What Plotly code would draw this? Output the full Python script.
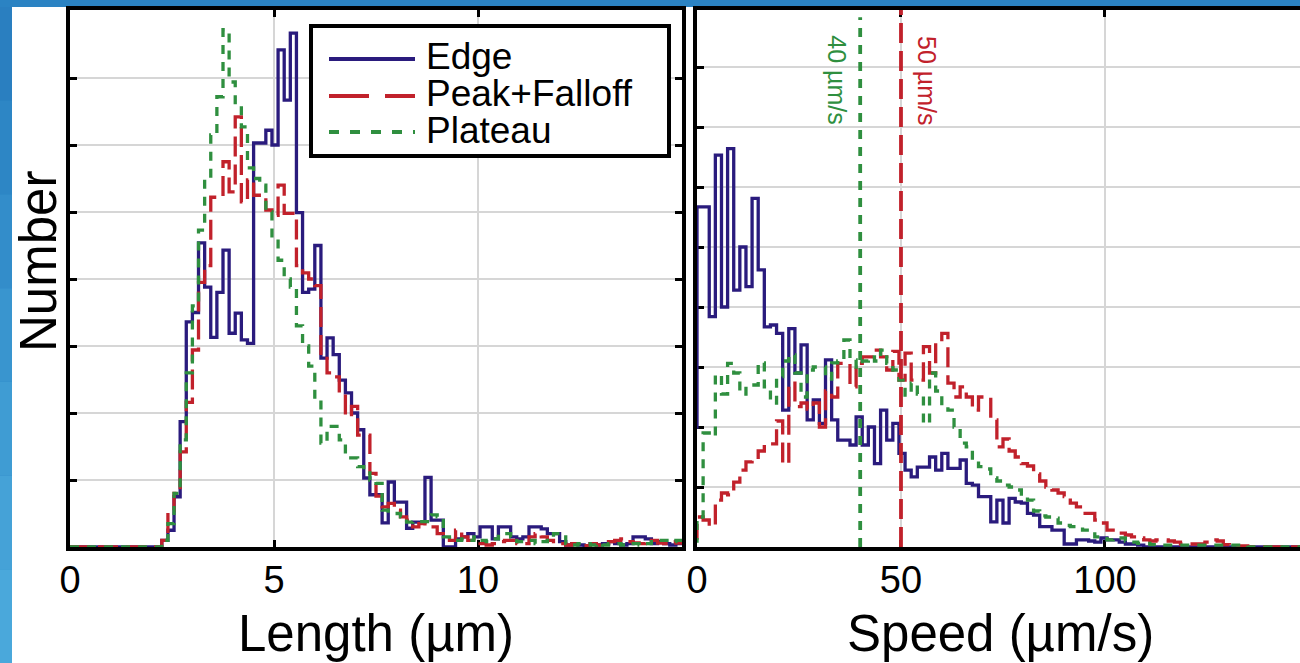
import plotly.graph_objects as go

FONT = "Liberation Sans, Arial, Helvetica, sans-serif"
EDGE_C = "#2a1b7d"
PEAK_C = "#c1212b"
PLAT_C = "#2f8f3f"

series_names = ["Edge", "Peak+Falloff", "Plateau"]

# ---------------- Left panel: Length histograms (bins of 0.15 um from 0) ----------------
length_bin_start = 0.0
length_bin_width = 0.15
length_edge = [
    0, 0, 0, 0, 0, 0, 0, 0, 0, 0, 0, 0, 0, 0, 0,
    0.1, 0.25, 0.75, 1.87, 3.36, 3.5, 4.54, 3.88, 3.13, 3.8,
    4.43, 3.19, 3.49, 3.09, 3.04, 6.03, 6.03, 6.22, 6.0, 7.42,
    6.67, 7.67, 4.99, 3.8, 3.85, 4.5, 2.82, 3.12, 2.87, 2.49,
    2.3, 2.0, 1.75, 1.03, 0.78, 0.78, 0.36, 0.97, 0.67, 0.67,
    0.28, 0.37, 0.37, 1.04, 0.4, 0.4, 0, 0, 0.12, 0.15,
    0.2, 0.15, 0.3, 0.3, 0.12, 0.3, 0.3, 0.15, 0.12, 0.15,
    0.3, 0.3, 0.27, 0.2, 0.2, 0.08, 0.03, 0.05, 0.03, 0.02,
    0.05, 0.03, 0.05, 0.08, 0.05, 0.03, 0.05, 0.15, 0.15, 0.12,
    0.05, 0.08, 0.05, 0.03, 0.05,
]
length_peak = [
    0, 0, 0, 0, 0, 0, 0, 0, 0, 0, 0, 0, 0, 0, 0,
    0.1, 0.55, 0.8, 1.42, 2.16, 2.94, 3.95, 4.2, 5.22, 5.22,
    5.75, 5.3, 6.42, 5.15, 5.48, 5.25, 5.25, 5.03, 4.95, 5.4,
    4.98, 4.98, 4.2, 4.09, 4.0, 3.9, 2.84, 2.6, 2.54, 2.3,
    1.95, 2.1, 1.67, 1.67, 1.1, 0.76, 0.6, 0.65, 0.55, 0.45,
    0.4, 0.3, 0.35, 0.3, 0.3, 0.2, 0.15, 0.1, 0.25, 0.15,
    0.1, 0.08, 0.05, 0.03, 0.05, 0.08, 0.1, 0.1, 0.05, 0.05,
    0.15, 0.2, 0.15, 0.1, 0.05, 0.05, 0.03, 0.05, 0.03, 0.02,
    0.05, 0.03, 0.05, 0.08, 0.1, 0.12, 0.08, 0.06, 0.05, 0.08,
    0.1, 0.06, 0.05, 0.08, 0.06,
]
length_plateau = [
    0, 0, 0, 0, 0, 0, 0, 0, 0, 0, 0, 0, 0, 0, 0,
    0.1, 0.35, 0.8, 1.6, 2.6, 3.6, 4.73, 5.5, 6.15, 6.72,
    7.72, 6.94, 6.6, 6.27, 5.66, 5.5, 5.4, 5.0, 4.6, 4.28,
    4.0, 3.88, 3.3, 3.0, 2.7, 2.19, 1.55, 1.8, 1.8, 1.6,
    1.33, 1.33, 1.2, 1.15, 1.0, 0.95, 0.55, 0.5, 0.5, 0.45,
    0.37, 0.38, 0.38, 0.38, 0.48, 0.45, 0.15, 0.1, 0.1, 0.12,
    0.1, 0.15, 0.1, 0.08, 0.12, 0.2, 0.2, 0.15, 0.08, 0.08,
    0.1, 0.05, 0.08, 0.1, 0.2, 0.15, 0.05, 0.03, 0.05, 0.05,
    0.03, 0.05, 0.03, 0.05, 0.05, 0.03, 0.05, 0.05, 0.03, 0.05,
    0.08, 0.1, 0.1, 0.08, 0.1,
]

# ---------------- Right panel: Speed histograms (bins of 1.5 um/s from -1.5) ----------------
speed_bin_start = -1.5
speed_bin_width = 1.5
speed_edge = [
    2.0, 5.67, 5.67, 3.84, 6.53, 4.0, 6.64, 4.28, 5.0, 4.34,
    5.81, 4.62, 3.67, 3.7, 3.56, 2.28, 3.64, 2.9, 3.37, 2.12,
    2.45, 2.06, 3.12, 2.12, 1.78, 1.78, 1.7, 2.17, 1.7, 2.0,
    1.39, 2.28, 1.78, 2.06, 1.56, 1.28, 1.17, 1.33, 1.33, 1.5,
    1.28, 1.56, 1.31, 1.31, 1.45, 1.06, 1.03, 0.84, 0.84, 0.42,
    0.78, 0.4, 0.81, 0.75, 0.73, 0.56, 0.53, 0.34, 0.34, 0.28,
    0.28, 0.05, 0.05, 0.12, 0.12, 0.1, 0.08, 0.15, 0.12, 0.12,
    0.08, 0.05, 0.05, 0.03, 0, 0, 0, 0, 0, 0,
    0, 0, 0, 0, 0, 0, 0, 0, 0, 0,
    0, 0, 0, 0, 0, 0, 0, 0, 0, 0,
]
speed_peak = [
    0.15, 0.5, 0.45, 0.35, 0.78, 0.9, 0.87, 1.08, 1.28, 1.42,
    1.45, 1.6, 1.7, 1.72, 2.1, 1.39, 2.73, 2.34, 2.4, 2.3,
    2.4, 2.0, 2.6, 2.5, 3.06, 3.06, 2.67, 3.06, 3.17, 3.17,
    3.28, 3.17, 2.95, 3.26, 2.78, 3.23, 2.78, 2.78, 3.34, 2.9,
    3.42, 3.56, 2.73, 2.5, 2.67, 2.5, 2.28, 2.5, 2.5, 2.12,
    1.67, 1.8, 1.6, 1.5, 1.39, 1.35, 1.22, 1.1, 1.0, 0.95,
    0.9, 0.84, 0.73, 0.67, 0.56, 0.56, 0.45, 0.4, 0.28, 0.25,
    0.23, 0.2, 0.17, 0.15, 0.12, 0.1, 0.12, 0.12, 0.1, 0.08,
    0.05, 0.05, 0.05, 0.05, 0.08, 0.12, 0.1, 0.04, 0.03, 0.02,
    0.02, 0, 0, 0, 0, 0, 0, 0, 0, 0,
]
speed_plateau = [
    0.1, 0.5, 1.9, 1.85, 2.87, 2.55, 3.06, 2.9, 2.55, 2.68,
    2.7, 3.07, 2.67, 2.4, 2.84, 3.1, 3.2, 2.9, 2.5, 2.95,
    3.0, 3.0, 2.8, 3.07, 3.1, 3.45, 3.12, 3.0, 3.1, 3.17,
    3.1, 3.28, 3.06, 2.95, 2.78, 2.53, 2.73, 2.55, 2.06, 2.9,
    2.6, 2.35, 2.28, 2.0, 1.73, 1.67, 1.45, 1.34, 1.3, 1.15,
    1.1, 1.03, 1.0, 0.95, 0.85, 0.78, 0.6, 0.52, 0.5, 0.48,
    0.4, 0.36, 0.34, 0.34, 0.28, 0.28, 0.17, 0.17, 0.12, 0.15,
    0.15, 0.1, 0.08, 0.06, 0.06, 0.04, 0.03, 0.03, 0.03, 0.03,
    0.03, 0.03, 0.03, 0.03, 0.03, 0.03, 0.03, 0.03, 0.03, 0.03,
    0.03, 0, 0, 0, 0, 0, 0, 0, 0, 0,
]

ref_speeds = [40, 50]
ref_labels = ["40 µm/s", "50 µm/s"]
length_ticks = [0, 5, 10]
speed_ticks = [0, 50, 100]
length_range = [0, 15]
speed_range = [0, 147.8]
left_y_range = [0, 8.015]
right_y_range = [0, 8.95]

colors = [EDGE_C, PEAK_C, PLAT_C]
dashes = ["solid", "20px,8px", "9px,8px"]


def stairs(start, width, vals):
    xs = [start + width * i for i in range(len(vals) + 1)]
    ys = list(vals) + [vals[-1]]
    return xs, ys


# pixel helpers for layout (plot area: x 70..1300, y 10..547)
W, H = 1300, 663
ML, MR, MT, MB = 70, 0, 10, 116
PW = W - ML - MR
PH = H - MT - MB


def px_x(px):
    return (px - ML) / PW


def px_y(py):
    return (H - MB - py) / PH


fig = go.Figure()

for name, vals, col, dsh in zip(series_names, [length_edge, length_peak, length_plateau], colors, dashes):
    xs, ys = stairs(length_bin_start, length_bin_width, vals)
    fig.add_trace(go.Scatter(x=xs, y=ys, mode="lines", line_shape="hv", name=name,
                             line=dict(color=col, width=3.3, dash=dsh), xaxis="x", yaxis="y",
                             showlegend=False))

for name, vals, col, dsh in zip(series_names, [speed_edge, speed_peak, speed_plateau], colors, dashes):
    xs, ys = stairs(speed_bin_start, speed_bin_width, vals)
    fig.add_trace(go.Scatter(x=xs, y=ys, mode="lines", line_shape="hv", name=name,
                             line=dict(color=col, width=3.3, dash=dsh), xaxis="x2", yaxis="y2",
                             showlegend=False))

# reference speed lines
ref_cols = [PLAT_C, PEAK_C]
ref_dash = ["9px,8px", "20px,8px"]
ref_tops = [right_y_range[1] - 0.12, right_y_range[1]]
for sp, col, dsh, top in zip(ref_speeds, ref_cols, ref_dash, ref_tops):
    fig.add_trace(go.Scatter(x=[sp, sp], y=[0, top], mode="lines",
                             line=dict(color=col, width=3.8, dash=dsh),
                             xaxis="x2", yaxis="y2", showlegend=False))

axis_common = dict(
    ticks="inside", ticklen=7, tickwidth=3, tickcolor="black",
    showline=True, linewidth=4, linecolor="black",
    showgrid=True, gridcolor="#d6d6d6", gridwidth=2, zeroline=False,
    tickfont=dict(family=FONT, size=38, color="black"),
    layer="below traces",
)

fig.update_layout(
    width=W, height=H,
    margin=dict(l=ML, r=MR, t=MT, b=MB, autoexpand=False),
    paper_bgcolor="#2b83c3",
    plot_bgcolor="white",
    showlegend=False,
    xaxis=dict(domain=[0, px_x(682)], range=length_range, tickvals=length_ticks,
               mirror="ticks", ticklabelstandoff=-4, anchor="y", **axis_common),
    yaxis=dict(domain=[0, 1], range=left_y_range, tick0=0, dtick=1, showticklabels=False,
               mirror="ticks", anchor="x", **axis_common),
    xaxis2=dict(domain=[px_x(697), 1], range=speed_range, tickvals=speed_ticks,
                mirror="ticks", ticklabelstandoff=-4, anchor="y2", **axis_common),
    yaxis2=dict(domain=[0, 1], range=right_y_range, tick0=0, dtick=1, showticklabels=False,
                mirror=False, anchor="x2", **axis_common),
)

shapes = []
# white slide panel over blue background
shapes.append(dict(type="rect", xref="paper", yref="paper", x0=px_x(12), x1=px_x(1320),
                   y0=px_y(720), y1=px_y(7), fillcolor="white", line=dict(width=0), layer="below"))
# left strip gradient imitation
strip_cols = ["#2a7fc0", "#2d86c5", "#338dca", "#3995cf", "#3f9cd3", "#45a2d7", "#4aa8db"]
n = len(strip_cols)
for k, c in enumerate(strip_cols):
    shapes.append(dict(type="rect", xref="paper", yref="paper", x0=px_x(-5), x1=px_x(12),
                       y0=px_y(7 + (k + 1) * (656 / n)), y1=px_y(7 + k * (656 / n)),
                       fillcolor=c, line=dict(width=0), layer="below"))

# manual legend
shapes.append(dict(type="rect", xref="paper", yref="paper", x0=px_x(311), x1=px_x(669),
                   y0=px_y(156), y1=px_y(26), fillcolor="white",
                   line=dict(color="black", width=4), layer="above"))
legend_rows = [59, 96, 132]
legend_dash = ["solid", "40px,16px", "10px,11px"]
for row, col, dsh in zip(legend_rows, colors, legend_dash):
    shapes.append(dict(type="line", xref="paper", yref="paper", x0=px_x(329), x1=px_x(415),
                       y0=px_y(row), y1=px_y(row), line=dict(color=col, width=4, dash=dsh),
                       layer="above"))

annotations = []
for row, name in zip(legend_rows, series_names):
    annotations.append(dict(xref="paper", yref="paper", x=px_x(424), y=px_y(row - 2),
                            text=name, showarrow=False, xanchor="left", yanchor="middle",
                            font=dict(family=FONT, size=37, color="black")))

# axis titles
annotations.append(dict(xref="paper", yref="paper", x=px_x(376), y=px_y(633), text="Length (µm)",
                        showarrow=False, xanchor="center", yanchor="middle",
                        font=dict(family=FONT, size=51, color="black")))
annotations.append(dict(xref="paper", yref="paper", x=px_x(1000), y=px_y(633), text="Speed (µm/s)",
                        showarrow=False, xanchor="center", yanchor="middle",
                        font=dict(family=FONT, size=51, color="black")))
annotations.append(dict(xref="paper", yref="paper", x=px_x(38), y=px_y(262), text="Number",
                        showarrow=False, xanchor="center", yanchor="middle", textangle=-90,
                        font=dict(family=FONT, size=51, color="black")))

# reference line labels
label_x_offsets = [-5.7, 6.4]
for sp, lab, col, off in zip(ref_speeds, ref_labels, ref_cols, label_x_offsets):
    annotations.append(dict(xref="x2", yref="y2", x=sp + off, y=7.78, text=lab, showarrow=False,
                            textangle=90, xanchor="center", yanchor="middle",
                            font=dict(family=FONT, size=25, color=col)))

fig.update_layout(shapes=shapes, annotations=annotations)

fig.write_html("out.html", config={"displayModeBar": False},
               post_script="document.body.style.margin='0px';document.body.style.overflow='hidden';")
